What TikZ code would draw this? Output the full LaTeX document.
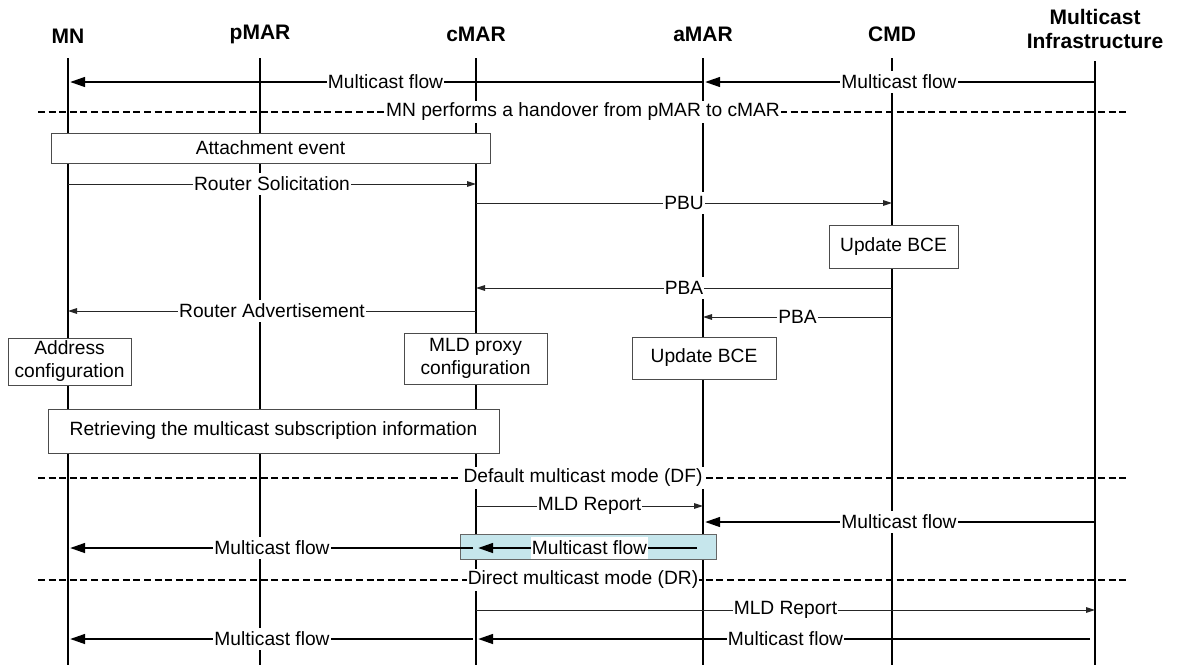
\documentclass[tikz,border=0pt]{standalone}
\usepackage{fontspec}
\setmainfont{Liberation Sans}
\usetikzlibrary{arrows.meta}
\definecolor{mcastbg}{RGB}{198,230,236}
\begin{document}
\begin{tikzpicture}[x=0.5pt,y=-0.5pt]
	\tikzstyle{actor}=[font=\fontsize{10.5}{12}\selectfont\bfseries,align=center,inner sep=0pt]
	\tikzstyle{life}=[draw,line width=0.8pt]
	\tikzstyle{msg}=[draw,line width=0.5pt,black!85,-{Triangle[length=4.5pt,width=2.8pt]}]
	\tikzstyle{flow}=[draw,line width=1.2pt,-{Triangle[length=7.5pt,width=4.8pt]},shorten >=1pt]
	\tikzstyle{lbl}=[fill=white,text=black,inner xsep=0.6pt,inner ysep=0pt,minimum height=11pt,font=\fontsize{9.6}{11.5}\selectfont]
	\tikzstyle{sep}=[draw,dash pattern=on 3.5pt off 1.8pt,line width=0.6pt]
	\tikzstyle{box}=[draw=black!70,fill=white,line width=0.5pt,align=center,inner sep=0pt,font=\fontsize{9.6}{11.5}\selectfont]
	\useasboundingbox (0,0) rectangle (1177,665);
	\begin{scope}
		\node [actor] (mn) at (68,36) {MN};
		\node [actor] (pmar) at (260,34) {pMAR};
		\node [actor] (cmar) at (476,34) {cMAR};
		\node [actor] (amar) at (703,34) {aMAR};
		\node [actor] (cmd) at (892,34) {CMD};
		\node [actor] (mi) at (1095,29) {Multicast\\Infrastructure};

		\coordinate (mnT) at (68,58);     \coordinate (mnB) at (68,665);
		\coordinate (pmarT) at (260,58);  \coordinate (pmarB) at (260,665);
		\coordinate (cmarT) at (476,58);  \coordinate (cmarB) at (476,665);
		\coordinate (amarT) at (703,58);  \coordinate (amarB) at (703,665);
		\coordinate (cmdT) at (892,58);   \coordinate (cmdB) at (892,665);
		\coordinate (miT) at (1095,61);   \coordinate (miB) at (1095,665);
		\coordinate (sepL) at (38,0);     \coordinate (sepR) at (1128,0);

		\path[life] (mnT) -- (mnB);
		\path[life] (pmarT) -- (pmarB);
		\path[life] (cmarT) -- (cmarB);
		\path[life] (amarT) -- (amarB);
		\path[life] (cmdT) -- (cmdB);
		\path[life] (miT) -- (miB);

		% rows of the messages
		\coordinate (flowA) at (0,82);
		\coordinate (hoSep) at (0,112);
		\coordinate (rsol) at (0,184);
		\coordinate (pbu) at (0,203);
		\coordinate (pbaC) at (0,288);
		\coordinate (radv) at (0,311);
		\coordinate (pbaA) at (0,317);
		\coordinate (dfSep) at (0,478);
		\coordinate (mldA) at (0,506);
		\coordinate (flowB) at (0,522);
		\coordinate (flowC) at (0,548);
		\coordinate (drSep) at (0,580);
		\coordinate (mldB) at (0,610);
		\coordinate (flowD) at (0,639);

		\node [box,minimum width=219.5pt,minimum height=15pt] (attach) at (270.5,148) {Attachment event};
		\node [box,minimum width=64.5pt,minimum height=21.5pt] (bceCmd) at (893.5,246.5) {Update BCE};
		\node [box,minimum width=61.5pt,minimum height=23.5pt] (addr) at (69.5,361.5) {Address\\configuration};
		\node [box,minimum width=71.5pt,minimum height=25.5pt] (mldcfg) at (475.5,358.5) {MLD proxy\\configuration};
		\node [box,minimum width=72pt,minimum height=21pt] (bceAmar) at (704,358) {Update BCE};
		\node [box,minimum width=225.5pt,minimum height=22pt] (retr) at (273.5,431) {Retrieving the multicast subscription information};
		\node [box,draw=black!60,fill=mcastbg,minimum width=128pt,minimum height=12.5pt] (tunnel) at (588,546.5) {};

		\path[flow] (miT |- flowA) -- node[lbl] {Multicast flow} (amarT |- flowA);
		\path[flow] (amarT |- flowA) -- node[lbl] {Multicast flow} (mnT |- flowA);
		\path[sep] (sepL |- hoSep) -- node[lbl] {MN performs a handover from pMAR to cMAR} (sepR |- hoSep);

		\path[msg] (mnT |- rsol) -- node[lbl] {Router Solicitation} (cmarT |- rsol);
		\path[msg] (cmarT |- pbu) -- node[lbl] {PBU} (cmdT |- pbu);
		\path[msg] (cmdT |- pbaC) -- node[lbl] {PBA} (cmarT |- pbaC);
		\path[msg] (cmarT |- radv) -- node[lbl] {Router Advertisement} (mnT |- radv);
		\path[msg] (cmdT |- pbaA) -- node[lbl] {PBA} (amarT |- pbaA);

		\path[sep] (sepL |- dfSep) -- node[lbl] {Default multicast mode (DF)} (sepR |- dfSep);
		\path[msg] (cmarT |- mldA) -- node[lbl] {MLD Report} (amarT |- mldA);
		\path[flow] (miT |- flowB) -- node[lbl] {Multicast flow} (amarT |- flowB);
		\path[flow,shorten <=3pt] (amarT |- flowC) -- node[lbl] {Multicast flow} (cmarT |- flowC);
		\path[flow,shorten <=1.5pt] (cmarT |- flowC) -- node[lbl] {Multicast flow} (mnT |- flowC);

		\path[sep] (sepL |- drSep) -- node[lbl] {Direct multicast mode (DR)} (sepR |- drSep);
		\path[msg] (cmarT |- mldB) -- node[lbl] {MLD Report} (miT |- mldB);
		\path[flow,shorten <=2.5pt] (miT |- flowD) -- node[lbl] {Multicast flow} (cmarT |- flowD);
		\path[flow,shorten <=1.5pt] (cmarT |- flowD) -- node[lbl] {Multicast flow} (mnT |- flowD);
	\end{scope}
\end{tikzpicture}
\end{document}
